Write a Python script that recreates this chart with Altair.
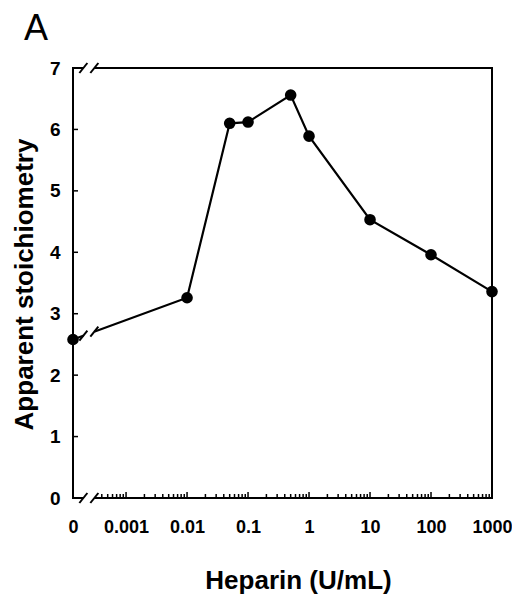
import altair as alt
import numpy as np
import pandas as pd

# ---- data ----
heparin = [0, 0.01, 0.05, 0.1, 0.5, 1, 10, 100, 1000]          # U/mL
stoich = [2.58, 3.26, 6.10, 6.12, 6.56, 5.89, 4.53, 3.96, 3.36]  # apparent stoichiometry

x_tick_values = [0, 0.001, 0.01, 0.1, 1, 10, 100, 1000]
x_tick_labels = ["0", "0.001", "0.01", "0.1", "1", "10", "100", "1000"]
y_tick_values = [0, 1, 2, 3, 4, 5, 6, 7]

# ---- broken log axis: 0 is drawn a little left of 0.001 ----
ZERO_POS = -3.87
BREAK_POS = -3.61
BREAK_HALF = 0.09
X_MAX = 3
Y_MAX = 7

def pos(v):
    return ZERO_POS if v == 0 else float(np.log10(v))

df = pd.DataFrame({"u": [pos(v) for v in heparin], "y": stoich})

tick_pos = [pos(v) for v in x_tick_values]
label_expr = "''"
for p, lab in reversed(list(zip(tick_pos, x_tick_labels))):
    label_expr = f"abs(datum.value - ({p:.4f})) < 0.01 ? '{lab}' : {label_expr}"

FONT = "Liberation Sans"
x_scale = alt.Scale(domain=[ZERO_POS, X_MAX], nice=False, zero=False)
y_scale = alt.Scale(domain=[0, Y_MAX], nice=False, zero=False)

x_axis = alt.Axis(
    values=tick_pos, labelExpr=label_expr, ticks=False, domain=False, grid=False,
    labelFont=FONT, labelFontWeight="bold", labelFontSize=18, labelColor="black",
    labelPadding=20, labelFlush=False, labelOverlap=False,
    title="Heparin (U/mL)", titleFont=FONT, titleFontWeight="bold", titleFontSize=26,
    titleColor="black", titleX=225, titleY=90, titleBaseline="alphabetic", titleAlign="center",
)
y_axis = alt.Axis(
    values=y_tick_values, ticks=False, domain=False, grid=False,
    labelFont=FONT, labelFontWeight="bold", labelFontSize=19, labelColor="black",
    labelPadding=13, labelFlush=False, labelOverlap=False,
    title="Apparent stoichiometry", titleFont=FONT, titleFontWeight="bold", titleFontSize=26,
    titleColor="black", titleX=-41, titleY=216, titleBaseline="alphabetic", titleAlign="center",
)

def X(field="u"):
    return alt.X(f"{field}:Q", scale=x_scale, axis=x_axis)

def Y(field="y"):
    return alt.Y(f"{field}:Q", scale=y_scale, axis=y_axis)

# line value at the break position (for the gap in the first segment)
u0, u1 = df["u"][0], df["u"][1]
y0, y1 = df["y"][0], df["y"][1]
def y_on_line(u):
    return y0 + (y1 - y0) * (u - u0) / (u1 - u0)

ua, ub = BREAK_POS - BREAK_HALF, BREAK_POS + BREAK_HALF
gaps = pd.DataFrame({
    "u": [ua, ua, ua],
    "u2": [ub, ub, ub],
    "y": [0, Y_MAX, y_on_line(ua)],
    "y2": [0, Y_MAX, y_on_line(ub)],
})
slashes = pd.DataFrame({
    "u": [ua, ub, ua, ub, ua, ub],
    "y": [0, 0, Y_MAX, Y_MAX, y_on_line(ua), y_on_line(ub)],
})

minor = [d + np.log10(k) for d in range(-4, 3) for k in range(2, 10)]
minor = [m for m in minor if m > BREAK_POS + 0.1]
minor_df = pd.DataFrame({"u": minor})
major_df = pd.DataFrame({"u": [p for p in tick_pos if p > BREAK_POS]})
yt_df = pd.DataFrame({"y": y_tick_values})

H = 430
line = alt.Chart(df).mark_line(color="black", strokeWidth=2.2).encode(x=X(), y=Y())
gap_layer = alt.Chart(gaps).mark_rule(color="white", strokeWidth=7).encode(
    x=X(), x2="u2:Q", y=Y(), y2="y2:Q")
slash_layer = alt.Chart(slashes).mark_rule(
    color="black", strokeWidth=2, xOffset=-4, x2Offset=4, yOffset=5, y2Offset=-5
).encode(x=X(), x2="u:Q", y=Y(), y2="y:Q")
points = alt.Chart(df).mark_circle(color="black", size=135, opacity=1).encode(x=X(), y=Y())
minor_ticks = alt.Chart(minor_df).mark_rule(color="black", strokeWidth=1.5).encode(
    x=X(), y=alt.value(H), y2=alt.value(H - 4))
major_ticks = alt.Chart(major_df).mark_rule(color="black", strokeWidth=1.5).encode(
    x=X(), y=alt.value(H), y2=alt.value(H - 6))
y_ticks = alt.Chart(yt_df).mark_rule(color="black", strokeWidth=1.5).encode(
    y=Y(), x=alt.value(0), x2=alt.value(5))

chart = alt.layer(
    line, gap_layer, slash_layer, minor_ticks, major_ticks, y_ticks, points
).properties(
    width=419, height=H,
    title=alt.TitleParams(text="A", anchor="start", frame="group", font=FONT,
                          fontSize=36, fontWeight="normal", color="black",
                          dx=-49, dy=27, offset=10, baseline="alphabetic"),
    autosize=alt.AutoSizeParams(type="none"),
    padding={"left": 65, "top": 60, "right": 20, "bottom": 100},
    background="white",
).configure_view(stroke="black", strokeWidth=2)

chart.save("out.html", embed_options={"renderer": "svg", "actions": False})
